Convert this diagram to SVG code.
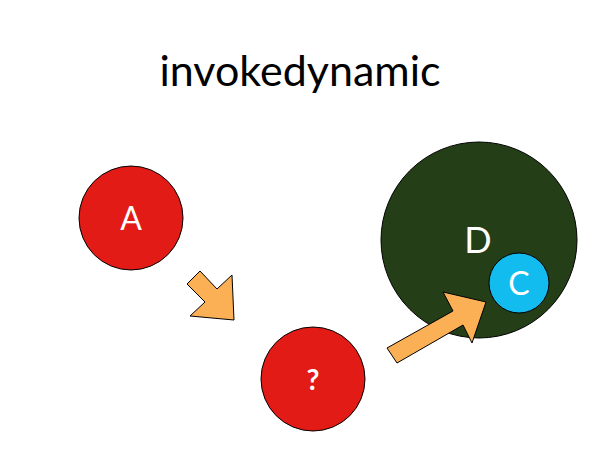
<svg xmlns="http://www.w3.org/2000/svg" width="600" height="450" viewBox="0 0 600 450">
<style>
.t{font-family:Lato,"Open Sans",sans-serif;fill:#fff;text-anchor:middle}
.c{stroke:#000;stroke-width:1}
.ar{fill:#fcb055;stroke:#000;stroke-width:1;stroke-linejoin:miter}
</style>
<rect width="600" height="450" fill="#fff"/>
<text x="300" y="86" font-family="Lato,'Open Sans',sans-serif" font-size="43" text-anchor="middle" fill="#000">invokedynamic</text>
<g id="A"><circle class="c" cx="131" cy="218" r="52" fill="#e31b17"/><text class="t" x="131" y="230" font-size="32">A</text></g>
<g id="Q"><circle class="c" cx="313" cy="379" r="52" fill="#e31b17"/><text class="t" x="313" y="390" font-size="28" font-weight="bold">?</text></g>
<g id="D"><circle class="c" cx="479" cy="240" r="98" fill="#243f18"/><text class="t" x="478" y="253" font-size="36">D</text></g>
<g id="C"><circle class="c" cx="519" cy="283" r="30" fill="#12bcef"/><text class="t" x="519" y="295" font-size="32">C</text></g>
<g id="connectors">
<polygon class="ar" points="187,284 200,271 217,289 232,275 234,320 190,316 205,302"/>
<polygon class="ar" points="387,348 453,311 443,292 486,302 472,343 463,325 397,363"/>
</g>
</svg>
